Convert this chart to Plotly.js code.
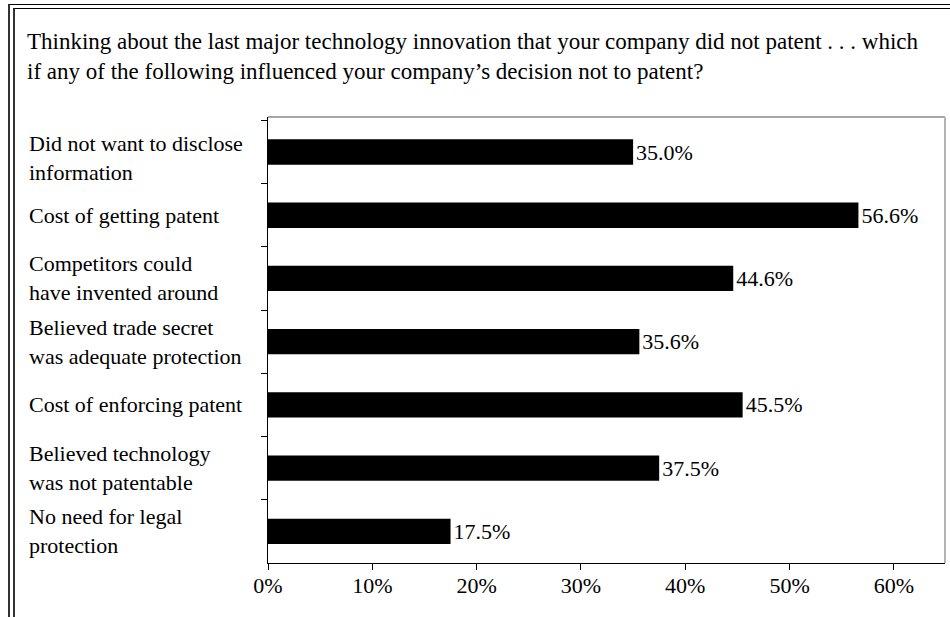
<!DOCTYPE html>
<html>
<head>
<meta charset="utf-8">
<script src="https://cdn.plot.ly/plotly-3.0.1.min.js"></script>
<style>
  html, body { margin: 0; padding: 0; background: #fff; }
  #wrap { position: relative; width: 950px; height: 617px; overflow: hidden; }
  #chart { position: absolute; left: 0; top: 0; width: 950px; height: 617px; }
  .frame { position: absolute; pointer-events: none; width: 2000px; height: 2000px; }
  #f1 { left: 8px; top: 4px; border-top: 1px solid #000; border-left: 2px solid #333; }
  #f2 { left: 13px; top: 8px; border-top: 1px solid #000; border-left: 2px solid #333; }
</style>
</head>
<body>
<div id="wrap">
  <div id="chart"></div>
  <div class="frame" id="f1"></div>
  <div class="frame" id="f2"></div>
</div>
<script>
const titleText = "Thinking about the last major technology innovation that your company did not patent . . . which<br>" +
  "if any of the following influenced your company\u2019s decision not to patent?";
const categories = [
  "Did not want to disclose<br>information",
  "Cost of getting patent",
  "Competitors could<br>have invented around",
  "Believed trade secret<br>was adequate protection",
  "Cost of enforcing patent",
  "Believed technology<br>was not patentable",
  "No need for legal<br>protection"
];
const values = [0.350, 0.566, 0.446, 0.356, 0.455, 0.375, 0.175];
const xTickVals = [0, 0.1, 0.2, 0.3, 0.4, 0.5, 0.6];

const FONT = "Liberation Serif, Times New Roman, serif";
const FS = 22;

// category labels, left aligned
const annotations = categories.map((c, ci) => ({
  text: c, xref: "paper", yref: "y", x: -0.356, y: c,
  xanchor: "left", yanchor: "middle", align: "left", showarrow: false,
  yshift: ci === 0 ? -6 : 0,
  font: { family: FONT, size: FS, color: "#000" }
}));

const trace = {
  type: "bar", orientation: "h",
  y: categories, x: values,
  marker: { color: "#000", line: { width: 0 } },
  text: values.map(v => (v * 100).toFixed(1) + "%"),
  textposition: "outside",
  textfont: { family: FONT, size: FS, color: "#000" },
  constraintext: "none",
  cliponaxis: false,
  hoverinfo: "none"
};

const layout = {
  width: 950, height: 617,
  margin: { l: 268, r: 5, t: 117, b: 54 },
  paper_bgcolor: "#fff", plot_bgcolor: "#fff",
  showlegend: false,
  bargap: 0.6,
  font: { family: FONT, size: FS, color: "#000" },
  title: {
    text: titleText,
    xref: "container", yref: "container",
    x: 27 / 950, xanchor: "left",
    y: 1 - 49 / 617, yanchor: "middle",
    font: { family: FONT, size: 23, color: "#000" }
  },
  xaxis: {
    range: [0, 0.649], fixedrange: true,
    tickvals: xTickVals, tickformat: ".0%",
    ticks: "outside", ticklen: 6, tickcolor: "#000", tickwidth: 1,
    ticklabelstandoff: -3,
    showline: true, linecolor: "#000", linewidth: 1,
    showgrid: false, zeroline: false,
    tickfont: { family: FONT, size: FS, color: "#000" }
  },
  yaxis: {
    autorange: "reversed", type: "category",
    tickson: "boundaries", ticks: "outside", ticklen: 6, tickcolor: "#000",
    showticklabels: false,
    showline: true, linecolor: "#000", linewidth: 1,
    showgrid: false, zeroline: false
  },
  shapes: [
    { type: "line", xref: "paper", yref: "paper", x0: 0, x1: 1, y0: 1, y1: 1,
      line: { color: "#a6a6a6", width: 2 } },
    { type: "line", xref: "paper", yref: "paper", x0: 1, x1: 1, y0: 0, y1: 1,
      line: { color: "#b4b4b4", width: 2 } }
  ],
  annotations: annotations
};

Plotly.newPlot("chart", [trace], layout, { displayModeBar: false, staticPlot: true });
</script>
</body>
</html>
